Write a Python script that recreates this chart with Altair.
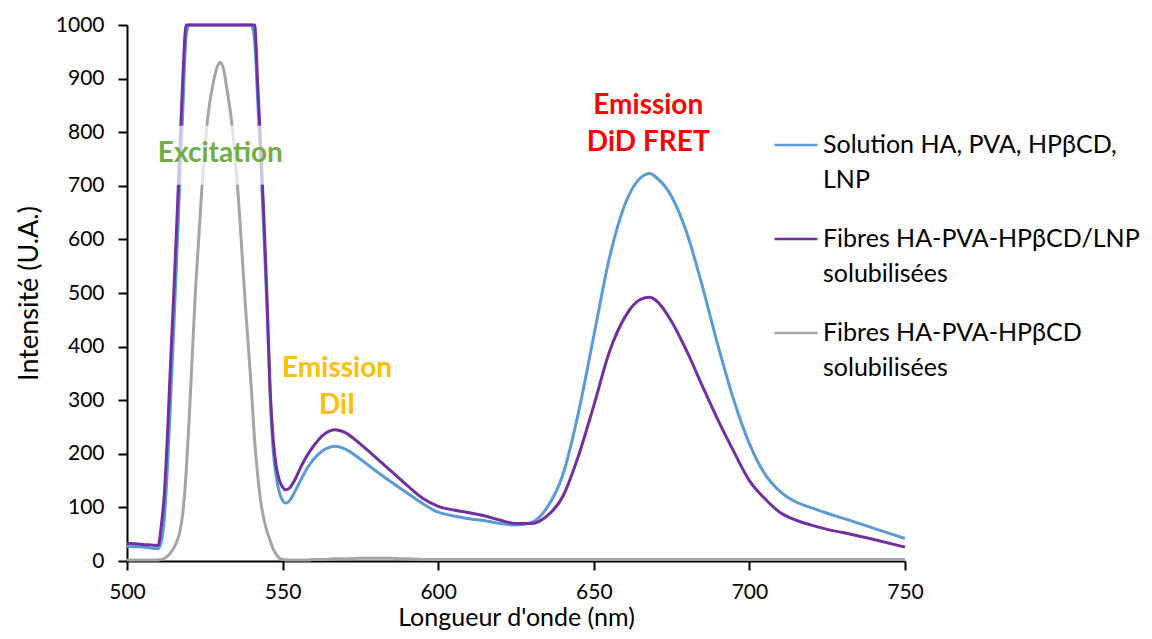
import altair as alt
import pandas as pd

# ---------------- data ----------------
WAVELENGTH = [500, 505, 510, 511, 512, 513, 514, 515, 516, 517,
              518, 519, 520, 522, 524, 526, 528, 529, 530, 531,
              532, 534, 536, 538, 539, 540, 541, 542, 543, 544,
              545, 546, 547, 548, 549, 550, 551, 552, 554, 556,
              558, 560, 563, 567, 570, 575, 580, 585, 590, 595,
              600, 605, 610, 615, 620, 625, 630, 635, 640, 645,
              650, 655, 660, 665, 668, 670, 675, 680, 685, 690,
              695, 700, 705, 710, 715, 720, 725, 730, 740, 750]

SOLUTION = [27, 26, 23, 35, 80, 175, 300, 430, 570, 710,
            850, 980, 1000, 1000, 1000, 1000, 1000, 1000, 1000, 1000,
            1000, 1000, 1000, 1000, 1000, 1000, 970, 860, 740, 610,
            470, 310, 205, 155, 127, 113, 108, 111, 130, 153,
            174, 190, 206, 214, 209, 190, 168, 147, 127, 107,
            91, 84, 79, 75, 70, 67, 72, 100, 160, 275,
            420, 565, 665, 715, 723, 716, 680, 610, 510, 400,
            300, 219, 162, 129, 110, 99, 89, 80, 61, 42]

FIBRES_LNP = [33, 31, 29, 65, 125, 235, 370, 495, 630, 770,
              910, 1000, 1000, 1000, 1000, 1000, 1000, 1000, 1000, 1000,
              1000, 1000, 1000, 1000, 1000, 1000, 1000, 890, 770, 640,
              490, 318, 225, 175, 150, 138, 133, 135, 152, 177,
              198, 215, 235, 245, 240, 218, 193, 167, 141, 117,
              102, 95, 90, 84, 76, 70, 70, 84, 120, 195,
              290, 390, 455, 488, 492, 486, 447, 390, 325, 262,
              204, 150, 116, 90, 76, 67, 59, 53, 40, 26]

FIBRES = [2, 2, 2, 3, 5, 9, 15, 24, 36, 55,
          92, 165, 268, 505, 690, 830, 900, 922, 930, 918,
          885, 800, 660, 480, 400, 318, 225, 160, 110, 78,
          55, 38, 22, 12, 5, 3, 2, 2, 2, 2,
          2, 3, 3, 4, 4, 5, 5, 5, 4, 3,
          3, 3, 3, 3, 3, 3, 3, 3, 3, 3,
          3, 3, 3, 3, 3, 3, 3, 3, 3, 3,
          3, 3, 3, 3, 3, 3, 3, 3, 3, 3]

SERIES = ["Solution HA, PVA, HPβCD, LNP",
          "Fibres HA-PVA-HPβCD/LNP solubilisées",
          "Fibres HA-PVA-HPβCD solubilisées"]
LEGEND_LINES = [["Solution HA, PVA, HPβCD,", "LNP"],
                ["Fibres HA-PVA-HPβCD/LNP", "solubilisées"],
                ["Fibres HA-PVA-HPβCD", "solubilisées"]]
COLORS = ["#5B9BD5", "#7030A0", "#A5A5A5"]

ANNOT_TEXT = ["Excitation", "Emission\nDiI", "Emission\nDiD FRET"]
ANNOT_X = [530, 567.5, 667.5]
ANNOT_Y = [760, 359, 848]
ANNOT_COLOR = ["#70AD47", "#FFC000", "#FF0000"]

BOX_X = [514]
BOX_X2 = [546]
BOX_Y = [702]
BOX_Y2 = [812]

FONT = "Lato"

# ---------------- build tables ----------------
assert len(WAVELENGTH) == len(SOLUTION) == len(FIBRES_LNP) == len(FIBRES)
rows = []
for name, vals in zip(SERIES, [SOLUTION, FIBRES_LNP, FIBRES]):
    for i, (w, v) in enumerate(zip(WAVELENGTH, vals)):
        rows.append({"wl": w, "val": v, "series": name, "order": i})
df = pd.DataFrame(rows)

ann = pd.DataFrame({"text": ANNOT_TEXT, "x": ANNOT_X, "y": ANNOT_Y, "color": ANNOT_COLOR})
box = pd.DataFrame({"x": BOX_X, "x2": BOX_X2, "y": BOX_Y, "y2": BOX_Y2})


def js_arr(lines):
    return "[" + ",".join("'" + l + "'" for l in lines) + "]"


label_expr = (
    f"datum.label == '{SERIES[0]}' ? {js_arr(LEGEND_LINES[0])} : "
    f"datum.label == '{SERIES[1]}' ? {js_arr(LEGEND_LINES[1])} : {js_arr(LEGEND_LINES[2])}"
)

x_scale = alt.Scale(domain=[500, 750], nice=False)
y_scale = alt.Scale(domain=[0, 1000], nice=False)

lines = alt.Chart(df).mark_line(strokeWidth=3, interpolate="monotone").encode(
    x=alt.X("wl:Q", scale=x_scale,
            axis=alt.Axis(title="Longueur d'onde (nm)", values=[500, 550, 600, 650, 700, 750],
                          format="d", labelFlush=False, labelPadding=11, titlePadding=3,
                          titleFontSize=25)),
    y=alt.Y("val:Q", scale=y_scale,
            axis=alt.Axis(title="Intensité (U.A.)", values=list(range(0, 1001, 100)), format="d",
                          labelFlush=False, labelPadding=14, titlePadding=12)),
    color=alt.Color("series:N", scale=alt.Scale(domain=SERIES, range=COLORS),
                    legend=alt.Legend(title=None, orient="none", legendX=646, legendY=97,
                                      symbolType="stroke", symbolSize=1850, symbolStrokeWidth=2.5,
                                      labelFont=FONT, labelFontSize=25, labelColor="#000000",
                                      labelLimit=500, labelExpr=label_expr, rowPadding=23,
                                      padding=0, labelOffset=4)),
    order="order:Q",
)

bg = alt.Chart(box).mark_rect(color="white", opacity=0.7).encode(
    x=alt.X("x:Q", scale=x_scale), x2="x2:Q",
    y=alt.Y("y:Q", scale=y_scale), y2="y2:Q",
)

texts = alt.Chart(ann).mark_text(font=FONT, fontSize=28, fontWeight="bold",
                                 lineBreak="\n", lineHeight=37, baseline="middle").encode(
    x=alt.X("x:Q", scale=x_scale),
    y=alt.Y("y:Q", scale=y_scale),
    text="text:N",
    color=alt.Color("color:N", scale=None),
)

chart = alt.layer(lines, bg, texts).properties(
    width=778, height=536,
    autosize=alt.AutoSizeParams(type="none"),
    padding={"left": 119, "top": 17, "right": 239, "bottom": 70},
).configure(
    style={"guide-label": {"lineHeight": 35}}
).configure_view(stroke=None).configure_axis(
    grid=False,
    domainColor="#000000", domainWidth=2,
    tickColor="#000000", tickWidth=2, tickSize=9,
    labelFont=FONT, labelFontSize=21, labelColor="#000000",
    titleFont=FONT, titleFontSize=27, titleFontWeight="normal", titleColor="#000000",
)

chart.save("out.html", embed_options={"renderer": "svg", "actions": False})
